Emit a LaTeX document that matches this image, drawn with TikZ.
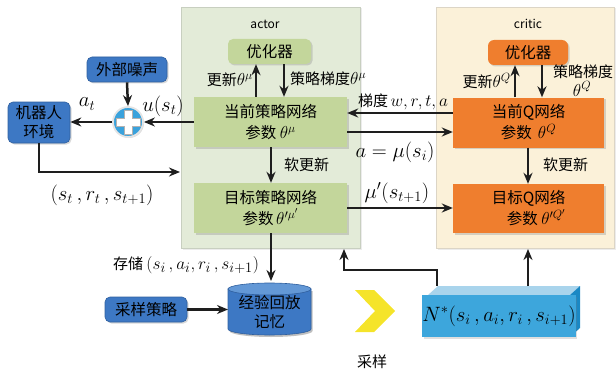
\documentclass[tikz,border=0pt]{standalone}
\usepackage[no-math]{fontspec}
\setmainfont{Noto Sans CJK SC}
\usetikzlibrary{arrows.meta,shadows,calc}

\definecolor{actbgc}{HTML}{E3EBD8}
\definecolor{actbdc}{HTML}{C8CFC0}
\definecolor{critbgc}{HTML}{FBF1D9}
\definecolor{critbdc}{HTML}{DCD5C6}
\definecolor{grnc}{HTML}{C3D69B}
\definecolor{orgc}{HTML}{EF7E2E}
\definecolor{bluec}{HTML}{3D78C4}
\definecolor{bluebd}{HTML}{2F5F9E}
\definecolor{bluetop}{HTML}{6398D6}
\definecolor{nfront}{HTML}{3DA6DC}
\definecolor{ntop}{HTML}{A9D4EC}
\definecolor{nside}{HTML}{1A88C4}
\definecolor{chevc}{HTML}{F5E42A}
\definecolor{plusc}{HTML}{3AA2DC}
\definecolor{arrc}{HTML}{1E1E1E}

% larger theta with a superscript
\newcommand\bigth[1]{{\fontsize{18pt}{21pt}\selectfont$\theta^{#1}$}}

\tikzset{
  txt/.style={font=\fontsize{15.5pt}{21pt}\selectfont, align=center, inner sep=0pt},
  lbl/.style={font=\fontsize{15pt}{17pt}\selectfont, inner sep=0pt},
  mlbl/.style={font=\fontsize{20.5pt}{22pt}\selectfont, inner sep=0pt},
  panel/.style={draw, line width=0.8pt, drop shadow={opacity=0.15, shadow xshift=1.5pt, shadow yshift=-1.5pt}},
  box/.style={txt, drop shadow={opacity=0.3, shadow xshift=1.5pt, shadow yshift=-1.5pt}},
  grnbox/.style={box, fill=grnc},
  orgbox/.style={box, fill=orgc},
  bluebox/.style={box, fill=bluec, draw=bluebd, line width=0.6pt, rounded corners=5pt},
  arr/.style={draw=arrc, line width=2.5pt, -{Stealth[length=11pt,width=9pt]}},
}

\begin{document}
\begin{tikzpicture}[x=1pt, y=-1pt]
\useasboundingbox (0,0) rectangle (616,369);

% actor and critic panels
\node[panel, fill=actbgc, draw=actbdc, minimum width=179pt, minimum height=241pt] (actbg) at (270.5,127.5) {};
\node[panel, fill=critbgc, draw=critbdc, minimum width=178pt, minimum height=241pt] (critbg) at (525,127.5) {};
\node[font=\fontsize{12pt}{14pt}\selectfont] (actlbl) at (265,24) {actor};
\node[font=\fontsize{12pt}{14pt}\selectfont] (critlbl) at (528,24) {critic};

% network boxes
\node[grnbox, rounded corners=5pt, minimum width=83pt, minimum height=25pt] (aopt) at (269.5,51.5) {优化器};
\node[orgbox, rounded corners=6pt, minimum width=80pt, minimum height=25pt] (copt) at (528,52.5) {优化器};
\node[grnbox, minimum width=153pt, minimum height=50pt] (acur) at (270.5,122) {当前策略网络\\参数 \bigth{\mu}};
\node[orgbox, minimum width=151pt, minimum height=50pt] (ccur) at (528.5,122.5) {当前Q网络\\参数 \,\bigth{Q}};
\node[grnbox, minimum width=153pt, minimum height=50pt] (atar) at (270.5,208) {目标策略网络\\参数\,{\fontsize{18pt}{21pt}\selectfont$\theta'^{\mu'}$}};
\node[orgbox, minimum width=151pt, minimum height=49pt] (ctar) at (528.5,208.5) {目标Q网络\\\quad 参数 {\fontsize{18pt}{21pt}\selectfont$\theta'^{Q'}$}};

% environment side
\node[bluebox, minimum width=80pt, minimum height=25pt] (noise) at (127,69.5) {外部噪声};
\node[bluebox, font=\fontsize{15.5pt}{19pt}\selectfont, minimum width=62pt, minimum height=41pt] (robot) at (39,122.5) {机器人\\环境};
\node[circle, fill=plusc, draw=white!80!gray, line width=1.8pt, minimum size=30pt,
      drop shadow={opacity=0.3, shadow xshift=1pt, shadow yshift=-1pt}] (plus) at (128,122) {};
\fill[white, draw=gray!60, line width=0.4pt] (124,110) -- (132,110) -- (132,118) -- (140,118) -- (140,126) -- (132,126) -- (132,134) -- (124,134) -- (124,126) -- (116,126) -- (116,118) -- (124,118) -- cycle;

\node[bluebox, minimum width=82pt, minimum height=25pt] (samp) at (146,309.5) {采样策略};

% replay memory cylinder
\fill[black, opacity=0.25] (229.5,291) -- (229.5,331) arc[start angle=180, end angle=360, x radius=41.5pt, y radius=6pt] -- (312.5,291) -- cycle;
\filldraw[fill=bluec, draw=bluebd, line width=0.6pt] (228,289) -- (228,329) arc[start angle=180, end angle=360, x radius=41.5pt, y radius=6pt] -- (311,289) -- cycle;
\filldraw[fill=bluetop, draw=bluebd, line width=0.6pt] (269.5,289) ellipse[x radius=41.5pt, y radius=6pt];
\node[txt, font=\fontsize{15.5pt}{19pt}\selectfont, minimum width=83pt, minimum height=46pt] (mem) at (269.5,312) {经验回放\\记忆};

% sampled mini-batch block
\fill[ntop] (428,295) -- (438,286) -- (580,286) -- (570,295) -- cycle;
\fill[nside] (570,295) -- (580,286) -- (580,328) -- (570,337) -- cycle;
\node[fill=nfront, minimum width=142pt, minimum height=42pt, inner sep=0pt,
      drop shadow={opacity=0.25, shadow xshift=1.5pt, shadow yshift=-1.5pt}] (nbox) at (499,316)
      {\fontsize{19.5pt}{21pt}\selectfont $N^{*}(s_{i}\,,a_{i},r_{i}\,,s_{i+1})$};

% sampling chevron
\fill[chevc] (355,290) -- (374,290) -- (395,311) -- (374,332) -- (355,332) -- (375,311) -- cycle;
\node[lbl] (samplbl) at (372,362) {采样};

% connectors
\draw[arr] (acur.north -| 256,0) -- (aopt.south -| 256,0);
\draw[arr] (aopt.south -| 284,0) -- (acur.north -| 284,0);
\draw[arr] (ccur.north -| 515,0) -- (copt.south -| 515,0);
\draw[arr] (copt.south -| 542,0) -- (ccur.north -| 542,0);
\draw[arr] (acur.south -| 271,0) -- (atar.north -| 271,0);
\draw[arr] (ccur.south -| 528,0) -- (ctar.north -| 528,0);
\draw[arr] (ccur.west |- 0,113) -- (acur.east |- 0,113);
\draw[arr] (acur.east |- 0,132) -- (ccur.west |- 0,132);
\draw[arr] (atar.east |- 0,208) -- (ctar.west |- 0,208);
\draw[arr] (acur.west) -- (plus.east);
\draw[arr] (plus.west) -- (robot.east |- plus.west);
\draw[arr] (noise.south) -- (plus.north);
\coordinate (envin) at (180,172);
\draw[arr] (robot.south) |- (envin);
\coordinate (memtop) at (271,281);
\draw[arr] (atar.south -| 271,0) -- (memtop);
\draw[arr] (samp.east) -- (228,309.5);
\coordinate (nup1) at (437,286);
\coordinate (abot) at (344,249);
\draw[arr] (nup1) -- ++(0,-16) -| (abot);
\coordinate (nup2) at (528,286);
\coordinate (cbot) at (528,249);
\draw[arr] (nup2) -- (cbot);

% labels
\node[lbl, anchor=east] (l1) at (253,80) {更新\bigth{\mu}};
\node[lbl, anchor=west] (l2) at (290,79) {策略梯度\bigth{\mu}};
\node[lbl, anchor=east] (l3) at (511,81) {更新\bigth{Q}};
\node[lbl, anchor=west] (l4) at (553,72) {策略梯度};
\node[lbl] (l5) at (582,89) {\bigth{Q}};
\node[lbl, anchor=west] (l6) at (284,165) {软更新};
\node[lbl, anchor=west] (l7) at (543,165) {软更新};
\node[lbl] (l8) at (403,102) {梯度\,{\fontsize{18pt}{20pt}\selectfont $w,r,t,a$}};
\node[mlbl] (l9) at (395,152) {$a=\mu(s_{i})$};
\node[mlbl] (l10) at (397,193) {$\mu'(s_{t+1})$};
\node[mlbl] (l11) at (163,106) {$u(s_{t})$};
\node[mlbl] (l12) at (87,104) {$a_{t}$};
\node[mlbl] (l13) at (102,195) {$(s_{t}\,,r_{t}\,,s_{t+1})$};
\node[lbl] (l14) at (186,265) {存储 {\fontsize{19pt}{21pt}\selectfont $(s_{i}\,,a_{i},r_{i}\,,s_{i+1})$}};
\end{tikzpicture}
\end{document}
